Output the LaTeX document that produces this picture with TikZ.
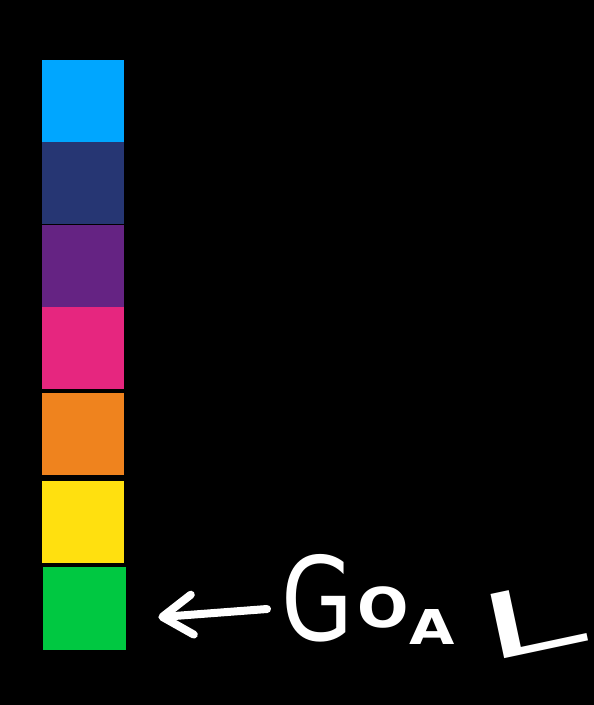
\documentclass[tikz,border=0pt]{standalone}
\usepackage{fontspec}
\usepackage{graphicx}
\usepackage{xcolor}
\usepackage{tikz}
\usetikzlibrary{arrows.meta}
\newfontfamily\goalfont{DejaVu Sans}
\definecolor{BlockSky}{HTML}{00A6FF}
\definecolor{BlockNavy}{HTML}{263673}
\definecolor{BlockPurple}{HTML}{652383}
\definecolor{BlockPink}{HTML}{E6267F}
\definecolor{BlockOrange}{HTML}{EF831E}
\definecolor{BlockYellow}{HTML}{FFE00F}
\definecolor{BlockGreen}{HTML}{00C841}

\begin{document}
\begin{tikzpicture}[x=1pt,y=-1pt,
  block/.style={inner sep=0pt,minimum size=82pt,anchor=north west},
  letter/.style={text=white,inner sep=0pt,anchor=base,font=\goalfont},
  goalarrow/.style={white,line width=8pt,line cap=round,
    -{Straight Barb[length=30pt,width=40pt,round]}}]
  \fill[black] (0,0) rectangle (594,705);
  \useasboundingbox (0,0) rectangle (594,705);
  \foreach \name/\shade/\top in {sky/BlockSky/60,navy/BlockNavy/142,
    purple/BlockPurple/225,pink/BlockPink/307,orange/BlockOrange/393,
    yellow/BlockYellow/481}
    \node[block,fill=\shade] (\name) at (42,\top) {};
  \node[block,fill=BlockGreen,minimum size=83pt] (green) at (43,567) {};
  \node[letter] (goalG) at (317,640)
    {\fontsize{116}{116}\selectfont\scalebox{0.8}[1]{G}};
  \node[letter] (goalO) at (383,627)
    {\fontsize{55}{55}\selectfont\bfseries\scalebox{1.1}[1]{O}};
  \node[letter] (goalA) at (432,644)
    {\fontsize{48}{48}\selectfont\bfseries\scalebox{1.22}[1]{A}};
  \node[letter,rotate=12] (goalL) at (538,652)
    {\fontsize{90}{90}\selectfont\scalebox{2.1}[1]{L}};
  \coordinate (tail) at (267,609);
  \draw[goalarrow] (tail) -- ([xshift=32pt,yshift=-8.5pt]green.east);
\end{tikzpicture}
\end{document}
